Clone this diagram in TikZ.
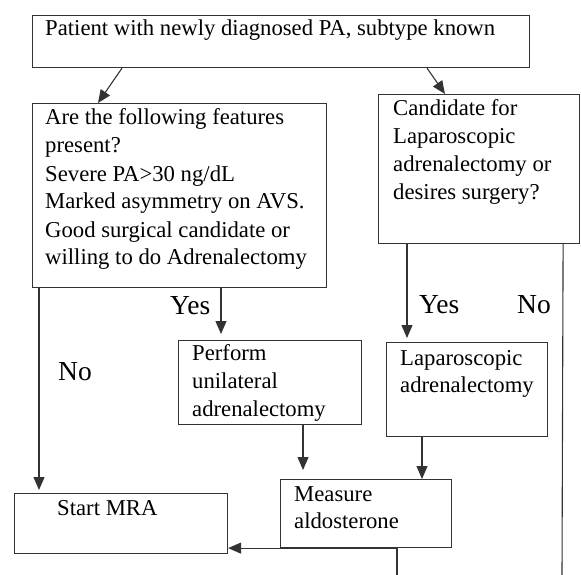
\documentclass[tikz,border=0pt]{standalone}
\usepackage{fontspec}
\setmainfont{Liberation Serif}
\usetikzlibrary{arrows.meta,calc}
\begin{document}
\begin{tikzpicture}[x=1pt,y=-1pt,
  box/.style={draw=black!80, line width=1.1pt, inner sep=0pt, anchor=north west},
  txt/.style={inner sep=0pt, anchor=base west, font=\fontsize{22.7}{28}\selectfont},
  lab/.style={inner sep=0pt, anchor=base west, font=\fontsize{27.5}{30}\selectfont},
  conn/.style={draw=black!80, line width=1.1pt},
  arr/.style={conn, -{Triangle[length=13pt,width=11pt]}}]
\useasboundingbox (0,0) rectangle (581,575);
% boxes
\node[box, minimum width=497pt, minimum height=52pt] (top) at (32,15) {};
\node[box, minimum width=294pt, minimum height=184pt] (feat) at (32,103) {};
\node[box, minimum width=201pt, minimum height=149pt] (cand) at (378,94) {};
\node[box, minimum width=183pt, minimum height=84pt] (perf) at (178,340) {};
\node[box, minimum width=161pt, minimum height=94pt] (lap) at (386,342) {};
\node[box, minimum width=213pt, minimum height=60pt] (mra) at (14,493) {};
\node[box, minimum width=171pt, minimum height=68pt] (meas) at (280,479) {};
% texts
\node[txt] (toptext) at (45,36) {Patient with newly diagnosed PA, subtype known};
\node[txt] (feattext) at (45,125) {\parbox[t]{290pt}{\raggedright Are the following features\\ present?\\ Severe PA>30 ng/dL\\ Marked asymmetry on AVS.\\ Good surgical candidate or\\ willing to do Adrenalectomy}};
\node[txt] (candtext) at (393,116) {\parbox[t]{190pt}{\raggedright Candidate for\\ Laparoscopic\\ adrenalectomy or\\ desires surgery?}};
\node[txt] (perftext) at (192,360) {\parbox[t]{170pt}{\raggedright Perform\\ unilateral\\ adrenalectomy}};
\node[txt] (laptext) at (400,365) {\parbox[t]{150pt}{\raggedright Laparoscopic\\[-1pt] adrenalectomy}};
\node[txt] (mratext) at (57,515) {Start MRA};
\node[txt] (meastext) at (294,501) {\parbox[t]{160pt}{\raggedright Measure\\[-1pt] aldosterone}};
% labels
\node[lab] (yes1) at (170,314) {Yes};
\node[lab] (no1) at (58,380) {No};
\node[lab] (yes2) at (419,313) {Yes};
\node[lab] (no2) at (517,313) {No};
% coordinates for free ends
\coordinate (noend) at (562,575);
\coordinate (fbstart) at (397,575);
% connectors
\draw[arr] ([xshift=90pt]top.south west) -- ([xshift=66pt]feat.north west);
\draw[arr] ([xshift=395pt]top.south west) -- ([xshift=67pt]cand.north west);
\draw[arr, shorten >=6pt] ([xshift=189pt]feat.south west) coordinate (a1) -- (a1 |- perf.north);
\draw[arr, shorten >=3pt] ([xshift=7pt]feat.south west) coordinate (a2) -- (a2 |- mra.north);
\draw[arr, shorten >=4pt] ([xshift=29pt]cand.south west) coordinate (a3) -- (a3 |- lap.north);
\draw[conn] ([xshift=-17pt]cand.south east) -- (noend);
\draw[arr, shorten >=9pt] ([xshift=125pt]perf.south west) coordinate (a4) -- (a4 |- meas.north);
\draw[arr] ([xshift=36pt]lap.south west) coordinate (a5) -- (a5 |- meas.north);
\draw[arr] (fbstart) -- (fbstart |- meas.south) -- (meas.south west) -- (meas.south west -| mra.east);
\end{tikzpicture}
\end{document}
